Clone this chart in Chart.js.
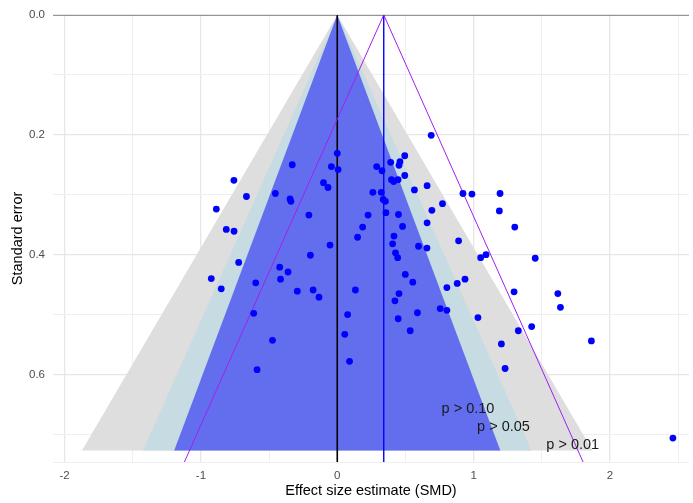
<!DOCTYPE html>
<html>
<head>
<meta charset="utf-8">
<script src="https://cdn.jsdelivr.net/npm/chart.js@4/dist/chart.umd.min.js"></script>
<style>
  html, body { margin: 0; padding: 0; background: #fff; }
  #wrap { width: 693px; height: 503px; }
</style>
</head>
<body>
<div id="wrap"><canvas id="c" width="693" height="503"></canvas></div>
<script>
// Study effect sizes (SMD) and their standard errors
const smd = [
  0.000, -0.043, 0.006, -0.330, -0.758, -0.666, -0.887, -0.454, -0.346, -0.340,
  -0.101, -0.068, -0.208, -0.814, -0.757, -0.053, -0.197, -0.723, -0.924, -0.851,
  -0.598, -0.422, -0.361, -0.416, -0.293, -0.177, -0.134, -0.613, -0.475, -0.588,
  0.076, 0.055, 0.090, 0.289, 0.328, 0.392, 0.460, 0.453, 0.495, 0.398,
  0.414, 0.446, 0.495, 0.566, 0.261, 0.323, 0.337, 0.353, 0.357, 0.449,
  0.226, 0.186, 0.479, 0.149, 0.416, 0.406, 0.596, 0.427, 0.689, 0.659,
  0.922, 0.988, 1.194, 0.772, 0.694, 1.189, 0.659, 1.302, 0.890, 0.658,
  1.091, 1.052, 0.443, 1.452, 0.499, 0.554, 0.804, 0.880, 0.937, 0.133,
  1.297, 1.618, 1.637, 0.453, 0.423, 0.588, 0.755, 0.804, 1.032, 0.447,
  1.328, 1.426, 0.535, 1.204, 1.864, 1.231, 2.462
];
const stdErr = [
  0.231, 0.253, 0.258, 0.250, 0.276, 0.303, 0.324, 0.298, 0.307, 0.311,
  0.280, 0.288, 0.334, 0.358, 0.361, 0.384, 0.401, 0.413, 0.440, 0.457,
  0.447, 0.421, 0.429, 0.441, 0.461, 0.459, 0.471, 0.498, 0.543, 0.592,
  0.500, 0.533, 0.578, 0.253, 0.260, 0.246, 0.245, 0.251, 0.235, 0.275,
  0.278, 0.275, 0.268, 0.292, 0.296, 0.296, 0.308, 0.311, 0.330, 0.333,
  0.334, 0.354, 0.353, 0.371, 0.369, 0.382, 0.386, 0.397, 0.201, 0.285,
  0.298, 0.299, 0.298, 0.315, 0.326, 0.327, 0.347, 0.354, 0.377, 0.389,
  0.400, 0.405, 0.405, 0.406, 0.433, 0.446, 0.455, 0.448, 0.441, 0.459,
  0.462, 0.465, 0.488, 0.465, 0.477, 0.497, 0.490, 0.493, 0.505, 0.507,
  0.527, 0.520, 0.527, 0.549, 0.544, 0.590, 0.706
];

// Pooled estimate and contour settings
const pooledSMD = 0.341;
const contourSEMax = 0.727;
const contourZ = [2.576, 1.960, 1.645];
const contourColors = ['#dedede', '#c6dce2', '#636eee'];
const contourLabels = ['p > 0.01', 'p > 0.05', 'p > 0.10'];
const contourLabelX = [1.727, 1.219, 0.959];
const contourLabelSE = [0.718, 0.688, 0.658];
const pooledZ = 1.96;

// Axis ranges and ticks
const xMin = -2.085, xMax = 2.58;
const seMin = 0, seMax = 0.746;
const xTickLabels = [-2, -1, 0, 1, 2];
const seTickLabels = [0.0, 0.2, 0.4, 0.6];

const points = smd.map((v, i) => ({ x: v, y: stdErr[i] }));

const datasets = [];
contourZ.forEach((z, i) => {
  const half = z * contourSEMax;
  datasets.push({
    type: 'line',
    data: [{ x: -half, y: contourSEMax }, { x: 0, y: 0 }, { x: half, y: contourSEMax }],
    backgroundColor: contourColors[i],
    borderWidth: 0,
    pointRadius: 0,
    fill: 'shape',
    order: 20 - i
  });
});
// reference line at zero effect
datasets.push({
  type: 'line',
  data: [{ x: 0, y: seMin }, { x: 0, y: seMax }],
  borderColor: '#000', borderWidth: 1.6, pointRadius: 0, fill: false, order: 8
});
// pooled estimate line
datasets.push({
  type: 'line',
  data: [{ x: pooledSMD, y: seMin }, { x: pooledSMD, y: seMax }],
  borderColor: '#0000ff', borderWidth: 1.4, pointRadius: 0, fill: false, order: 7
});
// 95% limits around the pooled estimate
[-1, 1].forEach((s, k) => {
  datasets.push({
    type: 'line',
    data: [{ x: pooledSMD, y: 0 }, { x: pooledSMD + s * pooledZ * seMax, y: seMax }],
    borderColor: '#a020f0', borderWidth: 1, pointRadius: 0, fill: false, order: 5 + k
  });
});
// top line at SE = 0
datasets.push({
  type: 'line',
  data: [{ x: xMin, y: 0 }, { x: xMax, y: 0 }],
  borderColor: '#333', borderWidth: 1.2, pointRadius: 0, fill: false, order: 4
});
// studies
datasets.push({
  type: 'scatter',
  data: points,
  backgroundColor: '#0000ff',
  borderWidth: 0,
  pointRadius: 3.4,
  order: 1
});

const contourText = {
  id: 'contourText',
  afterDatasetsDraw(chart) {
    const { ctx, scales } = chart;
    ctx.save();
    ctx.font = '14.5px "Liberation Sans", Arial, sans-serif';
    ctx.fillStyle = '#1a1a1a';
    ctx.textAlign = 'center';
    ctx.textBaseline = 'middle';
    contourLabels.forEach((t, i) => {
      ctx.fillText(t, scales.x.getPixelForValue(contourLabelX[i]), scales.y.getPixelForValue(contourLabelSE[i]));
    });
    ctx.restore();
  }
};

const isMajorX = v => Math.abs(v - Math.round(v)) < 1e-6;
const isMajorY = v => Math.abs(v * 5 - Math.round(v * 5)) < 1e-6;

new Chart(document.getElementById('c'), {
  data: { datasets },
  plugins: [contourText],
  options: {
    responsive: false,
    animation: false,
    layout: { padding: { top: 12, right: 4, left: 0, bottom: 0 } },
    plugins: { legend: { display: false }, tooltip: { enabled: false } },
    scales: {
      x: {
        type: 'linear',
        min: xMin, max: xMax,
        border: { display: false },
        grid: {
          drawTicks: false,
          color: c => isMajorX(c.tick && c.tick.value) ? '#e6e6e6' : '#efefef',
          lineWidth: c => isMajorX(c.tick && c.tick.value) ? 1.3 : 1
        },
        ticks: {
          stepSize: 0.5,
          includeBounds: false,
          autoSkip: false,
          maxRotation: 0,
          padding: 7,
          color: '#4d4d4d',
          font: { family: '"Liberation Sans", Arial, sans-serif', size: 11.5 },
          callback: v => xTickLabels.includes(v) ? String(v) : ''
        },
        title: {
          display: true,
          text: 'Effect size estimate (SMD)',
          color: '#000',
          font: { family: '"Liberation Sans", Arial, sans-serif', size: 14.5 },
          padding: { top: 0, bottom: 3 }
        },
        afterFit: s => { s.height = 41; }
      },
      y: {
        type: 'linear',
        reverse: true,
        min: seMin, max: seMax,
        border: { display: false },
        grid: {
          drawTicks: false,
          color: c => isMajorY(c.tick && c.tick.value) ? '#e6e6e6' : '#efefef',
          lineWidth: c => isMajorY(c.tick && c.tick.value) ? 1.3 : 1
        },
        ticks: {
          stepSize: 0.1,
          autoSkip: false,
          padding: 8,
          color: '#4d4d4d',
          font: { family: '"Liberation Sans", Arial, sans-serif', size: 11.5 },
          callback: v => seTickLabels.some(t => Math.abs(t - v) < 1e-6) ? v.toFixed(1) : ''
        },
        title: {
          display: true,
          text: 'Standard error',
          color: '#000',
          font: { family: '"Liberation Sans", Arial, sans-serif', size: 14.5 },
          padding: { top: 9, bottom: 0 }
        },
        afterFit: s => { s.width = 53; }
      }
    }
  }
});
</script>
</body>
</html>
